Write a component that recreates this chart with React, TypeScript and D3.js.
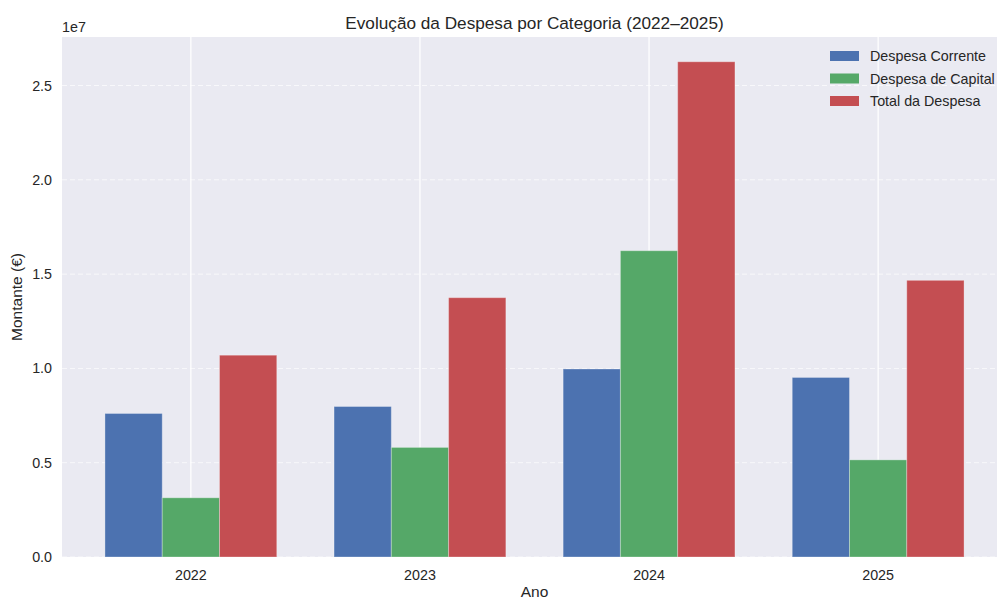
import React from "react";
import * as d3 from "d3";

const years = ["2022", "2023", "2024", "2025"];
const seriesNames = ["Despesa Corrente", "Despesa de Capital", "Total da Despesa"];
const despesaCorrente = [7.61e6, 7.98e6, 9.97e6, 9.52e6];
const despesaCapital = [3.14e6, 5.81e6, 16.24e6, 5.15e6];
const totalDespesa = [10.7e6, 13.75e6, 26.26e6, 14.67e6];
const yTicks = [0, 0.5e7, 1.0e7, 1.5e7, 2.0e7, 2.5e7];
const colors = ["#4C72B0", "#55A868", "#C44E52"];

const W = 997;
const H = 599;
const left = 62;
const right = 1007;
const top = 37;
const bottom = 557;
const font = "'Liberation Sans', Arial, sans-serif";
const textColor = "#262626";

export default function App() {
  const series = [despesaCorrente, despesaCapital, totalDespesa];
  const maxV = d3.max(totalDespesa) as number;
  const barW = 0.25;
  const x = d3.scaleLinear().domain([-0.5625, 3.5625]).range([left, right]);
  const y = d3.scaleLinear().domain([0, maxV * 1.05]).range([bottom, top]);
  return (
    <svg width={W} height={H} style={{ position: "absolute", left: 0, top: 0 }}>
      <defs>
        <clipPath id="plot">
          <rect x={left} y={top} width={right - left} height={bottom - top} />
        </clipPath>
      </defs>
      <rect x={0} y={0} width={W} height={H} fill="#fff" />
      <rect x={left} y={top} width={right - left} height={bottom - top} fill="#EAEAF2" />
      <g clipPath="url(#plot)">
        {years.map((yr, i) => (
          <line key={yr} x1={x(i)} x2={x(i)} y1={top} y2={bottom} stroke="#fff" strokeWidth={1.25} />
        ))}
        {yTicks.map((t) => (
          <line key={t} x1={left} x2={right} y1={y(t)} y2={y(t)} stroke="#fff" strokeWidth={1} strokeDasharray="5,3" opacity={0.7} />
        ))}
        {series.map((vals, s) =>
          vals.map((v, i) => {
            const xc = i + (s - 1) * barW;
            const x0 = x(xc - barW / 2);
            const x1 = x(xc + barW / 2);
            return (
              <rect
                key={`${s}-${i}`}
                x={x0}
                y={y(v)}
                width={x1 - x0}
                height={y(0) - y(v)}
                fill={colors[s]}
                stroke="#fff"
                strokeOpacity={0.3}
                strokeWidth={1}
              />
            );
          })
        )}
      </g>
      {yTicks.map((t) => (
        <text key={t} x={left - 10} y={y(t)} dy="0.35em" textAnchor="end" fontFamily={font} fontSize={14.3} fill={textColor}>
          {(t / 1e7).toFixed(1)}
        </text>
      ))}
      {years.map((yr, i) => (
        <text key={yr} x={x(i)} y={bottom + 23} textAnchor="middle" fontFamily={font} fontSize={14.3} fill={textColor}>
          {yr}
        </text>
      ))}
      <text x={left} y={top - 5} fontFamily={font} fontSize={14.3} fill={textColor}>1e7</text>
      <text x={(left + right) / 2} y={top - 8} textAnchor="middle" fontFamily={font} fontSize={17.2} fill={textColor}>
        Evolução da Despesa por Categoria (2022–2025)
      </text>
      <text x={(left + right) / 2} y={H - 2} textAnchor="middle" fontFamily={font} fontSize={15.5} fill={textColor}>
        Ano
      </text>
      <text transform={`translate(22,${(top + bottom) / 2}) rotate(-90)`} textAnchor="middle" fontFamily={font} fontSize={15.5} fill={textColor}>
        Montante (€)
      </text>
      {seriesNames.map((n, s) => (
        <g key={n} transform={`translate(830,${56 + s * 22.5})`}>
          <rect x={0} y={-5} width={29} height={10} fill={colors[s]} />
          <text x={40} y={0} dy="0.35em" fontFamily={font} fontSize={14.3} fill={textColor}>{n}</text>
        </g>
      ))}
    </svg>
  );
}
